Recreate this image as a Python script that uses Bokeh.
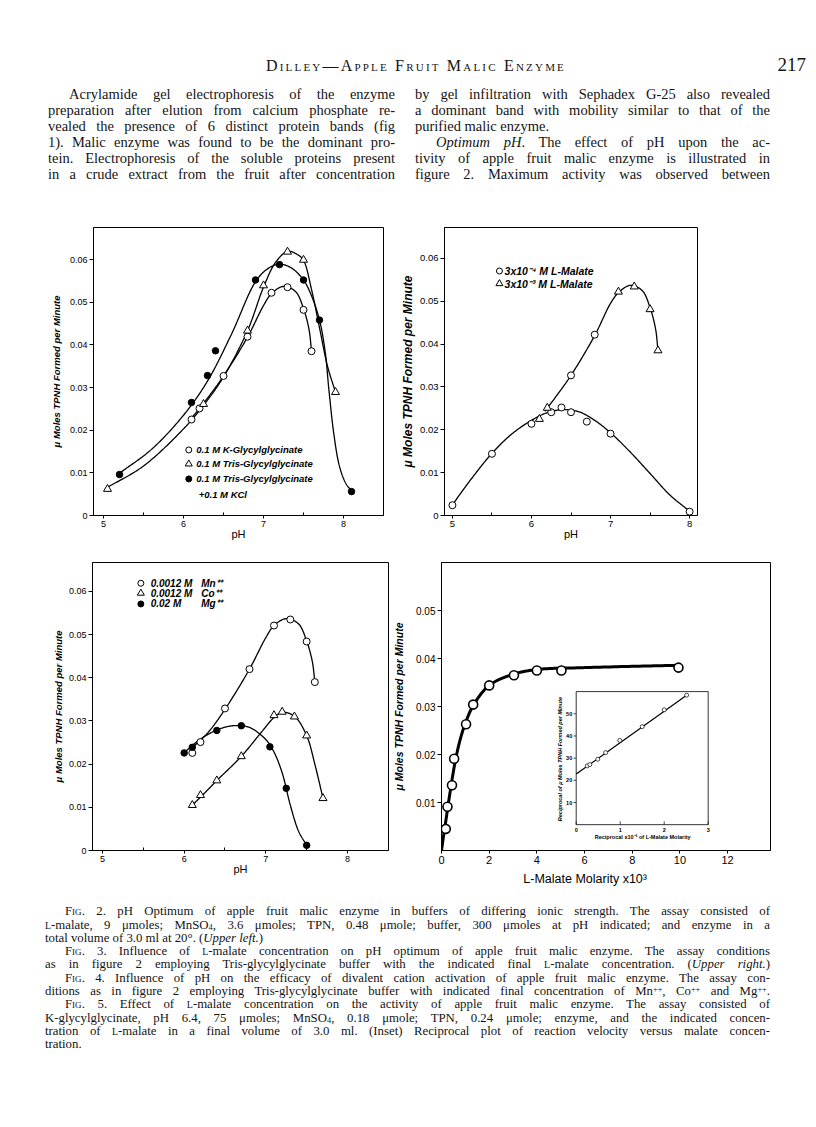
import numpy as np
from bokeh.plotting import figure
from bokeh.layouts import column, row
from bokeh.models import Div, Range1d, FixedTicker, NumeralTickFormatter
from bokeh.embed import file_html
from bokeh.resources import INLINE
from bokeh.core.properties import value

# ======================= DATA =======================
PH_TICKS = [5, 6, 7, 8]
PH_MINOR = [5.5, 6.5, 7.5]
RATE_TICKS = [0, 0.01, 0.02, 0.03, 0.04, 0.05, 0.06]

# Fig. 2 (upper left) - buffers of differing ionic strength
f2_k_ph = [6.1, 6.2, 6.5, 6.8, 7.1, 7.3, 7.5, 7.6]
f2_k_v = [0.0225, 0.0251, 0.0327, 0.0419, 0.0522, 0.0535, 0.0482, 0.0385]
f2_tris_ph = [5.05, 6.25, 6.8, 7.0, 7.3, 7.5, 7.9]
f2_tris_v = [0.0062, 0.0261, 0.0433, 0.0539, 0.0618, 0.0599, 0.0289]
f2_kcl_ph = [5.2, 6.1, 6.3, 6.4, 6.9, 7.2, 7.5, 7.7, 8.1]
f2_kcl_v = [0.0096, 0.0265, 0.0328, 0.0386, 0.0552, 0.0588, 0.0552, 0.0458, 0.0056]
# hand-drawn curves (knots)
f2_k_curve_ph = [6.1, 6.3, 6.5, 6.8, 7.0, 7.1, 7.25, 7.4, 7.5, 7.57, 7.6]
f2_k_curve_v = [0.0228, 0.0275, 0.0327, 0.0418, 0.0492, 0.0520, 0.0537, 0.0525, 0.0485, 0.0435, 0.0385]
f2_tris_curve_ph = [5.05, 5.5, 6.0, 6.25, 6.5, 6.8, 7.0, 7.15, 7.3, 7.42, 7.5, 7.6, 7.7, 7.8, 7.9]
f2_tris_curve_v = [0.0066, 0.0116, 0.0203, 0.0258, 0.0325, 0.0433, 0.0535, 0.0593, 0.0619, 0.0612, 0.0598, 0.0530, 0.0440, 0.0350, 0.0289]
f2_kcl_curve_ph = [5.2, 5.6, 6.0, 6.3, 6.6, 6.9, 7.05, 7.2, 7.35, 7.5, 7.6, 7.7, 7.77, 7.82, 7.88, 7.95, 8.03, 8.1]
f2_kcl_curve_v = [0.0099, 0.0155, 0.0235, 0.0315, 0.0425, 0.0548, 0.0578, 0.0589, 0.0580, 0.0552, 0.0515, 0.0458, 0.0385, 0.0290, 0.0190, 0.0115, 0.0075, 0.0058]
f2_labels = ["0.1 M  K-Glycylglycinate", "0.1 M  Tris-Glycylglycinate",
             "0.1 M  Tris-Glycylglycinate", "+0.1 M  KCl"]

# Fig. 3 (upper right) - L-malate concentration
f3_lo_ph = [5.0, 5.5, 6.0, 6.25, 6.38, 6.5, 6.7, 7.0, 8.0]
f3_lo_v = [0.0024, 0.0144, 0.0214, 0.0241, 0.0252, 0.0241, 0.0219, 0.0191, 0.0009]
f3_hi_ph = [6.1, 6.2, 6.5, 6.8, 7.1, 7.3, 7.5, 7.6]
f3_hi_v = [0.0225, 0.0251, 0.0327, 0.0422, 0.0522, 0.0534, 0.0481, 0.0385]
f3_lo_curve_ph = [5.0, 5.25, 5.5, 5.75, 6.0, 6.2, 6.4, 6.6, 6.8, 7.0, 7.25, 7.5, 7.75, 8.0]
f3_lo_curve_v = [0.0025, 0.0088, 0.0145, 0.0190, 0.0222, 0.0240, 0.0247, 0.0242, 0.0222, 0.0193, 0.0148, 0.0098, 0.0048, 0.0010]
f3_hi_curve_ph = [6.17, 6.3, 6.5, 6.8, 7.0, 7.1, 7.25, 7.4, 7.5, 7.57, 7.6]
f3_hi_curve_v = [0.0243, 0.0275, 0.0327, 0.0420, 0.0495, 0.0520, 0.0537, 0.0525, 0.0485, 0.0435, 0.0385]
f3_labels = ["3x10\u207b\u2074 M  L-Malate", "3x10\u207b\u00b3 M  L-Malate"]

# Fig. 4 (lower left) - divalent cations
f4_mn_ph = [6.1, 6.2, 6.5, 6.8, 7.1, 7.3, 7.5, 7.6]
f4_mn_v = [0.0226, 0.0251, 0.0329, 0.0420, 0.0521, 0.0535, 0.0484, 0.0390]
f4_co_ph = [6.1, 6.2, 6.4, 6.7, 7.1, 7.2, 7.35, 7.5, 7.7]
f4_co_v = [0.0105, 0.0128, 0.0162, 0.0218, 0.0313, 0.0321, 0.0310, 0.0266, 0.0121]
f4_mg_ph = [6.0, 6.1, 6.4, 6.7, 7.05, 7.25, 7.5]
f4_mg_v = [0.0226, 0.0239, 0.0278, 0.0289, 0.0240, 0.0144, 0.0012]
f4_mn_curve_ph = [6.13, 6.3, 6.5, 6.8, 7.0, 7.1, 7.25, 7.4, 7.5, 7.57, 7.6]
f4_mn_curve_v = [0.0243, 0.0275, 0.0327, 0.0420, 0.0493, 0.0521, 0.0537, 0.0525, 0.0485, 0.0437, 0.0390]
f4_co_curve_ph = [6.1, 6.25, 6.4, 6.7, 6.95, 7.1, 7.2, 7.35, 7.5, 7.6, 7.7]
f4_co_curve_v = [0.0105, 0.0133, 0.0162, 0.0218, 0.0275, 0.0308, 0.0320, 0.0311, 0.0266, 0.0200, 0.0121]
f4_mg_curve_ph = [6.0, 6.2, 6.4, 6.6, 6.8, 7.0, 7.1, 7.2, 7.3, 7.4, 7.5]
f4_mg_curve_v = [0.0227, 0.0258, 0.0279, 0.0289, 0.0285, 0.0257, 0.0228, 0.0180, 0.0105, 0.0045, 0.0012]
f4_conc = ["0.0012 M", "0.0012 M", "0.02 M"]
f4_ions = ["Mn\u207a\u207a", "Co\u207a\u207a", "Mg\u207a\u207a"]

# Fig. 5 (lower right) - L-malate saturation
f5_conc = [0.18, 0.25, 0.44, 0.53, 1.03, 1.33, 2.0, 3.04, 4.0, 5.03, 9.94]
f5_v = [0.0045, 0.0091, 0.0136, 0.0191, 0.0263, 0.0304, 0.0344, 0.0365, 0.0375, 0.0375, 0.0381]
f5_curve_conc = [0, 0.1, 0.2, 0.3, 0.45, 0.6, 0.8, 1.0, 1.33, 2.0, 3.0, 4.0, 6.0, 10.0]
f5_curve_v = [0, 0.0035, 0.0068, 0.0102, 0.0150, 0.0192, 0.0234, 0.0265, 0.0302, 0.0344, 0.0367, 0.0377, 0.0381, 0.0386]
F5_XTICKS = [0, 2, 4, 6, 8, 10, 12]
F5_YTICKS = [0.01, 0.02, 0.03, 0.04, 0.05]
# inset: reciprocal plot
inset_x = [0.25, 0.31, 0.49, 0.67, 0.99, 1.5, 2.0, 2.51]
inset_y = [26.5, 27.1, 29.5, 32.5, 38.0, 44.2, 51.8, 58.4]
inset_fit_x = [0, 2.51]
inset_fit_y = [22.8, 58.4]
INSET_XTICKS = [0, 1, 2, 3]
INSET_YTICKS = [10, 20, 30, 40, 50]

# ======================= helpers =======================
SANS = "Liberation Sans"
YLAB = "\u03bc Moles TPNH Formed per Minute"


def smooth(xs, ys, sx, sy, n=28):
    """centripetal Catmull-Rom through the knots, computed in pixel space"""
    P = np.column_stack([np.asarray(xs, float) * sx, np.asarray(ys, float) * sy])
    P = np.vstack([2 * P[0] - P[1], P, 2 * P[-1] - P[-2]])
    out = []
    for i in range(1, len(P) - 2):
        p0, p1, p2, p3 = P[i - 1], P[i], P[i + 1], P[i + 2]
        t0 = 0.0
        t1 = t0 + max(np.linalg.norm(p1 - p0), 1e-6) ** 0.5
        t2 = t1 + max(np.linalg.norm(p2 - p1), 1e-6) ** 0.5
        t3 = t2 + max(np.linalg.norm(p3 - p2), 1e-6) ** 0.5
        t = np.linspace(t1, t2, n)[:, None]
        A1 = (t1 - t) / (t1 - t0) * p0 + (t - t0) / (t1 - t0) * p1
        A2 = (t2 - t) / (t2 - t1) * p1 + (t - t1) / (t2 - t1) * p2
        A3 = (t3 - t) / (t3 - t2) * p2 + (t - t2) / (t3 - t2) * p3
        B1 = (t2 - t) / (t2 - t0) * A1 + (t - t0) / (t2 - t0) * A2
        B2 = (t3 - t) / (t3 - t1) * A2 + (t - t1) / (t3 - t1) * A3
        out.append((t2 - t) / (t2 - t1) * B1 + (t - t1) / (t2 - t1) * B2)
    C = np.vstack(out)
    return C[:, 0] / sx, C[:, 1] / sy


def base_fig(w, h, xr, yr, bl, br, bt, bb):
    p = figure(width=w, height=h, x_range=Range1d(*xr), y_range=Range1d(*yr),
               output_backend="svg", toolbar_location=None,
               min_border_left=bl, min_border_right=br,
               min_border_top=bt, min_border_bottom=bb)
    p.xgrid.grid_line_color = None
    p.ygrid.grid_line_color = None
    p.outline_line_color = "black"
    p.outline_line_alpha = 1
    p.outline_line_width = 1
    p.background_fill_color = "white"
    p.border_fill_color = "white"
    for ax in (p.xaxis[0], p.yaxis[0]):
        ax.axis_line_color = "black"
        ax.axis_line_width = 1
        ax.major_tick_line_color = "black"
        ax.minor_tick_line_color = "black"
        ax.major_label_text_color = "black"
        ax.axis_label_text_color = "black"
        ax.major_label_text_font = SANS
        ax.axis_label_text_font = SANS
        ax.major_tick_in = 0
        ax.major_tick_out = 3
        ax.minor_tick_in = 0
        ax.minor_tick_out = 0
        ax.major_label_standoff = 2
    return p


def ph_fig(w, h, xr, yr, borders, tick_px, ylab_px, ylab_standoff, xlab_standoff):
    p = base_fig(w, h, xr, yr, *borders)
    p.xaxis.ticker = FixedTicker(ticks=PH_TICKS, minor_ticks=PH_MINOR)
    p.xaxis.minor_tick_in = 3
    p.yaxis.ticker = FixedTicker(ticks=RATE_TICKS, minor_ticks=[])
    p.yaxis.formatter = NumeralTickFormatter(format="0.00")
    p.yaxis.major_label_overrides = {0: "0"}
    p.yaxis.major_tick_out = 4
    p.xaxis.major_label_text_font_size = f"{tick_px}px"
    p.yaxis.major_label_text_font_size = f"{tick_px}px"
    p.xaxis.axis_label = "pH"
    p.xaxis.axis_label_text_font_size = "11px"
    p.xaxis.axis_label_text_font_style = "normal"
    p.xaxis.axis_label_standoff = xlab_standoff
    p.yaxis.axis_label = YLAB
    p.yaxis.axis_label_text_font_size = f"{ylab_px}px"
    p.yaxis.axis_label_text_font_style = "bold italic"
    p.yaxis.axis_label_standoff = ylab_standoff
    return p


def curve(p, xs, ys, sx, sy, lw=1.3, **kw):
    cx, cy = smooth(xs, ys, sx, sy)
    p.line(cx, cy, line_color="black", line_width=lw, **kw)


def open_pts(p, xs, ys, marker="circle", size=7, **kw):
    p.scatter(xs, ys, marker=marker, size=size, fill_color="white",
              line_color="black", line_width=1, **kw)


def filled_pts(p, xs, ys, size=6.5, **kw):
    p.scatter(xs, ys, marker="circle", size=size, fill_color="black",
              line_color="black", line_width=1, **kw)


def legend_text(p, xs, ys, texts, px):
    p.text(x=xs, y=ys, text=texts, text_font=value(SANS), text_font_size=f"{px}px",
           text_font_style="bold italic", text_color="black",
           text_align="left", text_baseline="middle")


# ======================= Fig. 2 (upper left) =======================
SX2, SY2 = 80.0, 4280.0
p1 = ph_fig(390, 343, (4.875, 8.5), (0, 0.0675), (85, 15, 21, 33),
            tick_px=9, ylab_px=9.5, ylab_standoff=5, xlab_standoff=-2)
curve(p1, f2_tris_curve_ph, f2_tris_curve_v, SX2, SY2)
curve(p1, f2_k_curve_ph, f2_k_curve_v, SX2, SY2)
curve(p1, f2_kcl_curve_ph, f2_kcl_curve_v, SX2, SY2)
open_pts(p1, f2_k_ph, f2_k_v)
open_pts(p1, f2_tris_ph, f2_tris_v, marker="triangle", size=8)
filled_pts(p1, f2_kcl_ph, f2_kcl_v)
lg_y = [0.01536, 0.01208, 0.00857, 0.00491]
open_pts(p1, [6.066], [lg_y[0]], size=6)
open_pts(p1, [6.066], [lg_y[1]], marker="triangle", size=7)
filled_pts(p1, [6.066], [lg_y[2]], size=6)
legend_text(p1, [6.16, 6.16, 6.16, 6.19], lg_y, f2_labels, 9.5)

# ======================= Fig. 3 (upper right) =======================
SX3, SY3 = 80.1, 4300.0
p2 = ph_fig(410, 343, (4.9, 8.1), (0, 0.0672), (42, 111, 22, 32),
            tick_px=9.5, ylab_px=12, ylab_standoff=2, xlab_standoff=-2)
curve(p2, f3_lo_curve_ph, f3_lo_curve_v, SX3, SY3)
curve(p2, f3_hi_curve_ph, f3_hi_curve_v, SX3, SY3)
open_pts(p2, f3_lo_ph, f3_lo_v)
hi_markers = ["triangle", "triangle", "circle", "circle", "triangle", "triangle", "triangle", "triangle"]
for xv, yv, mk in zip(f3_hi_ph, f3_hi_v, hi_markers):
    open_pts(p2, [xv], [yv], marker=mk, size=8 if mk == "triangle" else 7)
lg3_y = [0.05705, 0.0541]
open_pts(p2, [5.595], [lg3_y[0]], size=6)
open_pts(p2, [5.595], [lg3_y[1]], marker="triangle", size=7)
legend_text(p2, [5.66, 5.66], lg3_y, f3_labels, 10.5)

# ======================= Fig. 4 (lower left) =======================
SX4, SY4 = 81.7, 4360.0
p3 = ph_fig(382, 345, (4.878, 8.502), (0, 0.0667), (84, 2, 14, 40),
            tick_px=9, ylab_px=9.5, ylab_standoff=2, xlab_standoff=-2)
curve(p3, f4_mg_curve_ph, f4_mg_curve_v, SX4, SY4)
curve(p3, f4_mn_curve_ph, f4_mn_curve_v, SX4, SY4)
curve(p3, f4_co_curve_ph, f4_co_curve_v, SX4, SY4)
open_pts(p3, f4_mn_ph, f4_mn_v)
open_pts(p3, f4_co_ph, f4_co_v, marker="triangle", size=8)
filled_pts(p3, f4_mg_ph, f4_mg_v)
lg4_y = [0.0619, 0.0596, 0.0571]
open_pts(p3, [5.47], [lg4_y[0]], size=6)
open_pts(p3, [5.47], [lg4_y[1]], marker="triangle", size=7)
filled_pts(p3, [5.47], [lg4_y[2]], size=6)
legend_text(p3, [5.59] * 3, lg4_y, f4_conc, 10)
legend_text(p3, [6.21] * 3, lg4_y, f4_ions, 10)

# ======================= Fig. 5 (lower right) =======================
SX5, SY5 = 23.84, 4840.0
p4 = base_fig(418, 345, (0, 13.8), (0, 0.06), 51, 38, 12, 43)
p4.xaxis.ticker = FixedTicker(ticks=F5_XTICKS, minor_ticks=[])
p4.yaxis.ticker = FixedTicker(ticks=F5_YTICKS, minor_ticks=[])
p4.yaxis.formatter = NumeralTickFormatter(format="0.00")
p4.xaxis.major_label_text_font_size = "11px"
p4.yaxis.major_label_text_font_size = "10px"
p4.yaxis.major_tick_out = 4
p4.yaxis.axis_label = YLAB
p4.yaxis.axis_label_text_font_size = "10.5px"
p4.yaxis.axis_label_text_font_style = "bold italic"
p4.yaxis.axis_label_standoff = 8
# trailing no-break spaces shift the centred label left, as in the original
p4.xaxis.axis_label = "L-Malate Molarity x10\u00b3" + "\u00a0" * 12
p4.xaxis.axis_label_text_font_size = "12.5px"
p4.xaxis.axis_label_text_font_style = "normal"
p4.xaxis.axis_label_standoff = 5
curve(p4, f5_curve_conc, f5_curve_v, SX5, SY5, lw=3)
p4.scatter(f5_conc, f5_v, marker="circle", size=9, fill_color="white",
           line_color="black", line_width=1.6)

# inset placed with its own ranges (page-pixel box of the inset frame)
FRAME_L, FRAME_R, FRAME_T, FRAME_B = 441.0, 770.0, 560.0, 850.0
IN_L, IN_R, IN_T, IN_B = 575.7, 707.7, 690.0, 824.0
ix_px = (IN_R - IN_L) / 3.0
iy_px = (IN_B - IN_T) / 60.0
p4.extra_x_ranges = {"ix": Range1d(-(IN_L - FRAME_L) / ix_px, 3 + (FRAME_R - IN_R) / ix_px)}
p4.extra_y_ranges = {"iy": Range1d(-(FRAME_B - IN_B) / iy_px, 60 + (IN_T - FRAME_T) / iy_px)}
IK = dict(x_range_name="ix", y_range_name="iy")
p4.quad(left=[0], right=[3], bottom=[0], top=[60], fill_color="white",
        line_color="black", line_width=0.8, **IK)
p4.segment(x0=INSET_XTICKS, y0=[0] * 4, x1=INSET_XTICKS, y1=[1.5] * 4,
           line_color="black", line_width=0.7, **IK)
p4.segment(x0=[-0.06] * 5, y0=INSET_YTICKS, x1=[0] * 5, y1=INSET_YTICKS,
           line_color="black", line_width=0.7, **IK)
p4.text(x=INSET_XTICKS, y=[0] * 4, text=[str(t) for t in INSET_XTICKS], y_offset=3,
        text_font=value(SANS), text_font_size="5.5px", text_font_style="bold",
        text_align="center", text_baseline="top", text_color="black", **IK)
p4.text(x=[0] * 5, y=INSET_YTICKS, text=[str(t) for t in INSET_YTICKS], x_offset=-4,
        text_font=value(SANS), text_font_size="5.5px", text_font_style="bold",
        text_align="right", text_baseline="middle", text_color="black", **IK)
p4.text(x=[-0.37], y=[29.6], text=["Reciprocal of \u03bc Moles TPNH Formed per Minute"],
        angle=np.pi / 2, text_font=value(SANS), text_font_size="5.5px",
        text_font_style="bold italic", text_align="center", text_baseline="middle",
        text_color="black", **IK)
p4.text(x=[1.51], y=[-5.4], text=["Reciprocal x10\u207b\u00b3 of L-Malate Molarity"],
        text_font=value(SANS), text_font_size="5.5px", text_font_style="bold",
        text_align="center", text_baseline="middle", text_color="black", **IK)
p4.line(inset_fit_x, inset_fit_y, line_color="black", line_width=1.2, **IK)
p4.scatter(inset_x, inset_y, marker="circle", size=4, fill_color="white",
           line_color="black", line_width=0.7, **IK)

# ======================= page text =======================
SC = lambda s: f'<span style="font-variant:small-caps">{s}</span>'
LSC = '<span style="font-size:78%">L</span>'
SUP = lambda s: f'<span style="font-size:65%;vertical-align:0.4em;line-height:0">{s}</span>'
SUB = lambda s: f'<span style="font-size:65%;vertical-align:-0.15em;line-height:0">{s}</span>'


def line_div(x, yc, w, html, size, lh, justify=True):
    top = yc - lh / 2.0
    st = (f"position:absolute;left:{x}px;top:{top:.1f}px;width:{w}px;height:{lh}px;"
          f"font-size:{size}px;line-height:{lh}px;white-space:nowrap;")
    st += "text-align:justify;text-align-last:justify;" if justify else "text-align:left;"
    return f'<div style="{st}">{html}</div>'


def wrap(h, inner):
    return (f'<div style="position:relative;width:800px;height:{h}px;'
            f"font-family:'Liberation Serif','DejaVu Serif',serif;color:#141414;\">{inner}</div>")


BODY = 14.5
top_parts = [
    line_div(198, 57.5, 420,
             '<span style="font-variant:small-caps;letter-spacing:2.2px;font-size:16px">Dilley\u2014Apple Fruit Malic Enzyme</span>',
             16, 18, justify=False).replace("text-align:left", "text-align:center"),
    line_div(700, 57, 98, '217', 19, 22, justify=False).replace("text-align:left", "text-align:right"),
]
left_lines = [
    (61, 326, "Acrylamide gel electrophoresis of the enzyme", True),
    (40, 347, "preparation after elution from calcium phosphate re-", True),
    (40, 347, "vealed the presence of 6 distinct protein bands (fig", True),
    (40, 347, "1).  Malic enzyme was found to be the dominant pro-", True),
    (40, 347, "tein.  Electrophoresis of the soluble proteins present", True),
    (40, 347, "in a crude extract from the fruit after concentration", True),
]
right_lines = [
    (407, 355, "by gel infiltration with Sephadex G-25 also revealed", True),
    (407, 355, "a dominant band with mobility similar to that of the", True),
    (407, 355, "purified malic enzyme.", False),
    (428, 334, "<i>Optimum pH</i>.  The effect of pH upon the ac-", True),
    (407, 355, "tivity of apple fruit malic enzyme is illustrated in", True),
    (407, 355, "figure 2.  Maximum activity was observed between", True),
]
for i, (x, w, t, j) in enumerate(left_lines):
    top_parts.append(line_div(x, 86.3 + 16 * i, w, t, BODY, 16, j))
for i, (x, w, t, j) in enumerate(right_lines):
    top_parts.append(line_div(x, 86.3 + 16 * i, w, t, BODY, 16, j))
div_top = Div(text=wrap(197, "".join(top_parts)), width=800, height=197, margin=0)

CAP = 12.8
cap_lines = [
    (57, 705, f"{SC('Fig')}. 2.  pH Optimum of apple fruit malic enzyme in buffers of differing ionic strength.  The assay consisted of", True),
    (37, 725, f"{LSC}-malate, 9 \u03bcmoles; MnSO{SUB('4')}, 3.6 \u03bcmoles; TPN, 0.48 \u03bcmole; buffer, 300 \u03bcmoles at pH indicated; and enzyme in a", True),
    (37, 725, "total volume of 3.0 ml at 20\u00b0.  (<i>Upper left.</i>)", False),
    (57, 705, f"{SC('Fig')}. 3.  Influence of {LSC}-malate concentration on pH optimum of apple fruit malic enzyme.  The assay conditions", True),
    (37, 725, f"as in figure 2 employing Tris-glycylglycinate buffer with the indicated final {LSC}-malate concentration.  (<i>Upper right.</i>)", True),
    (57, 705, f"{SC('Fig')}. 4.  Influence of pH on the efficacy of divalent cation activation of apple fruit malic enzyme.  The assay con-", True),
    (37, 725, f"ditions as in figure 2 employing Tris-glycylglycinate buffer with indicated final concentration of Mn{SUP('++')}, Co{SUP('++')} and Mg{SUP('++')}.", True),
    (57, 705, f"{SC('Fig')}. 5.  Effect of {LSC}-malate concentration on the activity of apple fruit malic enzyme.  The assay consisted of", True),
    (37, 725, f"K-glycylglycinate, pH 6.4, 75 \u03bcmoles; MnSO{SUB('4')}, 0.18 \u03bcmole; TPN, 0.24 \u03bcmole; enzyme, and the indicated concen-", True),
    (37, 725, f"tration of {LSC}-malate in a final volume of 3.0 ml.  (Inset)  Reciprocal plot of reaction velocity versus malate concen-", True),
    (37, 725, "tration.", False),
]
cap_parts = [line_div(x, 18.7 + 13.3 * i, w, t, CAP, 13, j) for i, (x, w, t, j) in enumerate(cap_lines)]
div_cap = Div(text=wrap(212, "".join(cap_parts)), width=800, height=212, margin=0)

# the page template has no body margin, so the 8px page margin is set here
layout = column(div_top, row(p1, p2), row(p3, p4), div_cap, margin=(8, 0, 0, 8))

with open("out.html", "w", encoding="utf-8") as f:
    f.write(file_html(layout, INLINE))
